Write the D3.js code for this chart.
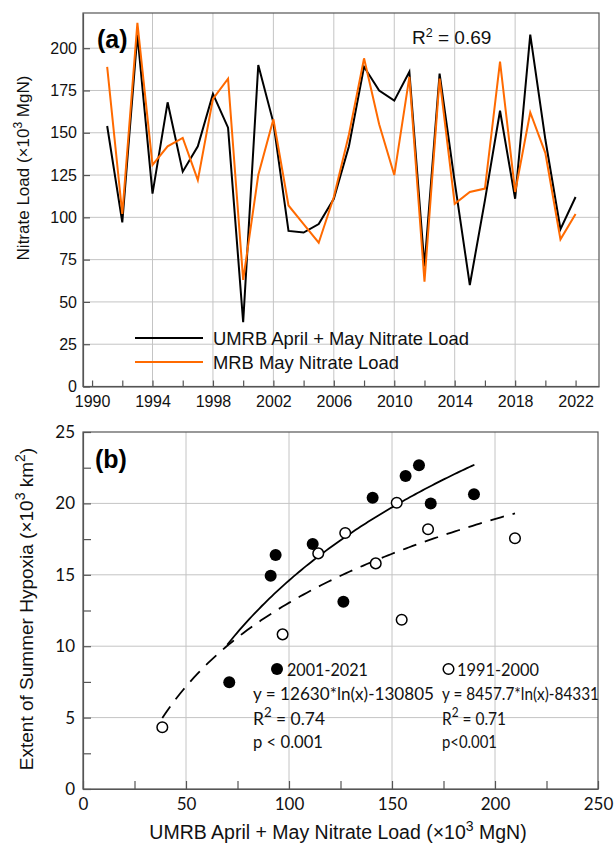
<!DOCTYPE html>
<html>
<head>
<meta charset="utf-8">
<script src="https://cdn.jsdelivr.net/npm/d3@7"></script>
<style>
  body { margin: 0; background: #fff; }
  svg { display: block; }
</style>
</head>
<body>
<svg width="615" height="845"></svg>
<script>
const svg = d3.select('svg');
svg.style('background-color', 'white');

// ---- panel (a) data: nitrate loads (x10^3 MgN)
const years = [1991, 1992, 1993, 1994, 1995, 1996, 1997, 1998, 1999, 2000,
  2001, 2002, 2003, 2004, 2005, 2006, 2007, 2008, 2009, 2010,
  2011, 2012, 2013, 2014, 2015, 2016, 2017, 2018, 2019, 2020, 2021, 2022];
const umrbAprMay = [154, 97, 208, 114, 168, 127, 142, 173, 153, 38,
  190, 156, 92, 91, 96, 111, 142, 189, 175, 169,
  186, 71, 185, 121, 60, 110, 163, 111, 208, 146, 93, 112];
const mrbMay = [189, 102, 215, 131, 142, 147, 122, 170, 182, 63,
  125, 158, 107, 96, 85, 112, 149, 194, 155, 125,
  183, 62, 182, 108, 115, 117, 192, 115, 162, 138, 87, 102];
const loadTicks = [0, 25, 50, 75, 100, 125, 150, 175, 200];
const yearTicks = [1990, 1992, 1994, 1996, 1998, 2000, 2002, 2004, 2006, 2008,
  2010, 2012, 2014, 2016, 2018, 2020, 2022];
const yearGrid = [1994, 1998, 2002, 2006, 2010, 2014, 2018];

// ---- panel (b) data: load vs hypoxia extent (x10^3 km2)
const recentLoad = [71.0, 91.1, 93.5, 111.5, 126.4, 140.6, 156.6, 163.1, 168.8, 189.8];
const recentHypoxia = [7.47, 14.94, 16.39, 17.16, 13.12, 20.40, 21.92, 22.67, 20.0, 20.64];
const earlyLoad = [38.5, 96.9, 114.2, 127.3, 142.1, 152.3, 154.7, 167.5, 209.7];
const earlyHypoxia = [4.32, 10.83, 16.50, 17.93, 15.80, 20.05, 11.85, 18.19, 17.56];
const fitRecent = [12630, -130805];   // y = a*ln(x) + b, x and y in raw units
const fitEarly = [8457.7, -84331];
const fitRecentRange = [70, 190];
const fitEarlyRange = [38.5, 209.7];
const loadTicksB = [0, 25, 50, 75, 100, 125, 150, 175, 200, 225, 250];
const hypoxiaTicks = [0, 2.5, 5, 7.5, 10, 12.5, 15, 17.5, 20, 22.5, 25];

const arial = 'Liberation Sans, Arial, sans-serif';
const calib = 'Lato, Noto Sans, sans-serif';
const frameColor = '#555';
const gridColor = '#c4c4c4';

// ================= panel (a)
const xA = d3.scaleLinear().domain([1989.4, 2023.55]).range([83, 599]);
const yA = d3.scaleLinear().domain([0, 220.8]).range([386.5, 13]);

const gA = svg.append('g').attr('class', 'panel-a');

gA.selectAll('line.hgrid').data(loadTicks.filter(d => d > 0))
  .enter().append('line')
    .attr('class', 'hgrid')
    .attr('x1', xA.range()[0]).attr('x2', xA.range()[1])
    .attr('y1', d => yA(d)).attr('y2', d => yA(d))
    .attr('stroke', gridColor).attr('stroke-width', 1);
gA.selectAll('line.vgrid').data(yearGrid)
  .enter().append('line')
    .attr('class', 'vgrid')
    .attr('x1', d => xA(d)).attr('x2', d => xA(d))
    .attr('y1', yA.range()[0]).attr('y2', yA.range()[1])
    .attr('stroke', gridColor).attr('stroke-width', 1);

// frame
gA.append('rect')
  .attr('x', xA.range()[0]).attr('y', yA.range()[1])
  .attr('width', xA.range()[1] - xA.range()[0])
  .attr('height', yA.range()[0] - yA.range()[1])
  .attr('fill', 'none').attr('stroke', frameColor).attr('stroke-width', 1.2);

const axA_x = gA.append('g')
  .attr('transform', `translate(0, ${yA.range()[0]})`)
  .call(d3.axisBottom(xA).tickValues(yearTicks).tickSize(-6).tickSizeOuter(0).tickPadding(9.5)
    .tickFormat(d => (d - 1990) % 4 === 0 ? d : ''));
const axA_y = gA.append('g')
  .attr('transform', `translate(${xA.range()[0]}, 0)`)
  .call(d3.axisLeft(yA).tickValues(loadTicks).tickSize(-7).tickSizeOuter(0).tickPadding(6));
[axA_x, axA_y].forEach(ax => {
  ax.select('.domain').attr('stroke', frameColor).attr('stroke-width', 1.2);
  ax.selectAll('.tick line').attr('stroke', frameColor).attr('stroke-width', 1.2);
  ax.selectAll('.tick text').attr('font-family', arial).attr('font-size', 16).attr('fill', '#111');
});

const lineA = d3.line().x((d, i) => xA(years[i])).y(d => yA(d));
gA.append('path').datum(umrbAprMay)
  .attr('d', lineA).attr('fill', 'none')
  .attr('stroke', '#000').attr('stroke-width', 2).attr('stroke-linejoin', 'miter');
gA.append('path').datum(mrbMay)
  .attr('d', lineA).attr('fill', 'none')
  .attr('stroke', '#ff6a00').attr('stroke-width', 2).attr('stroke-linejoin', 'miter');

// legend
const legendA = [
  { label: 'UMRB April + May Nitrate Load', color: '#000', y: 338 },
  { label: 'MRB May Nitrate Load', color: '#ff6a00', y: 362 }
];
legendA.forEach(item => {
  gA.append('line')
    .attr('x1', 135).attr('x2', 203).attr('y1', item.y).attr('y2', item.y)
    .attr('stroke', item.color).attr('stroke-width', 2);
  gA.append('text')
    .attr('x', 213).attr('y', item.y + 6.5)
    .attr('font-family', arial).attr('font-size', 18.4).attr('fill', '#111')
    .text(item.label);
});

gA.append('text')
  .attr('x', 97).attr('y', 48)
  .attr('font-family', arial).attr('font-size', 25).attr('font-weight', 'bold')
  .text('(a)');

const r2a = gA.append('text')
  .attr('x', 412).attr('y', 44)
  .attr('font-family', arial).attr('font-size', 19).attr('fill', '#111');
r2a.append('tspan').text('R');
r2a.append('tspan').attr('dy', -7).attr('font-size', 12.5).text('2');
r2a.append('tspan').attr('dy', 7).text(' = 0.69');

const ylabA = gA.append('text')
  .attr('transform', 'translate(29, 168) rotate(-90)')
  .attr('text-anchor', 'middle')
  .attr('font-family', arial).attr('font-size', 17).attr('fill', '#111');
ylabA.append('tspan').text('Nitrate Load (\u00d710');
ylabA.append('tspan').attr('dy', -7).attr('font-size', 12).text('3');
ylabA.append('tspan').attr('dy', 7).text(' MgN)');

// ================= panel (b)
const xB = d3.scaleLinear().domain([0, 250]).range([83, 598]);
const yB = d3.scaleLinear().domain([0, 25]).range([789, 432]);

const gB = svg.append('g').attr('class', 'panel-b');

gB.selectAll('line.hgrid').data([5, 10, 15, 20])
  .enter().append('line')
    .attr('class', 'hgrid')
    .attr('x1', xB.range()[0]).attr('x2', xB.range()[1])
    .attr('y1', d => yB(d)).attr('y2', d => yB(d))
    .attr('stroke', gridColor).attr('stroke-width', 1);
gB.selectAll('line.vgrid').data([50, 100, 150, 200])
  .enter().append('line')
    .attr('class', 'vgrid')
    .attr('x1', d => xB(d)).attr('x2', d => xB(d))
    .attr('y1', yB.range()[0]).attr('y2', yB.range()[1])
    .attr('stroke', gridColor).attr('stroke-width', 1);

gB.append('rect')
  .attr('x', xB.range()[0]).attr('y', yB.range()[1])
  .attr('width', xB.range()[1] - xB.range()[0])
  .attr('height', yB.range()[0] - yB.range()[1])
  .attr('fill', 'none').attr('stroke', frameColor).attr('stroke-width', 1.2);

const axB_x = gB.append('g')
  .attr('transform', `translate(0, ${yB.range()[0]})`)
  .call(d3.axisBottom(xB).tickValues(loadTicksB).tickSize(-8).tickSizeOuter(0).tickPadding(9)
    .tickFormat(d => d % 50 === 0 ? d : ''));
const axB_y = gB.append('g')
  .attr('transform', `translate(${xB.range()[0]}, 0)`)
  .call(d3.axisLeft(yB).tickValues(hypoxiaTicks).tickSize(-8).tickSizeOuter(0).tickPadding(8)
    .tickFormat(d => d % 5 === 0 ? d : ''));
[axB_x, axB_y].forEach(ax => {
  ax.select('.domain').attr('stroke', frameColor).attr('stroke-width', 1.2);
  ax.selectAll('.tick line').attr('stroke', frameColor).attr('stroke-width', 1.2);
  ax.selectAll('.tick text').attr('font-family', calib).attr('font-size', 17).attr('fill', '#111');
});

// fitted log curves
const fitCurve = (coef, range) => d3.range(0, 101).map(i => {
  const x = range[0] + (range[1] - range[0]) * i / 100;
  return [x, (coef[0] * Math.log(x * 1000) + coef[1]) / 1000];
});
const lineB = d3.line().x(d => xB(d[0])).y(d => yB(d[1]));
gB.append('path').datum(fitCurve(fitRecent, fitRecentRange))
  .attr('d', lineB).attr('fill', 'none').attr('stroke', '#000').attr('stroke-width', 1.8);
gB.append('path').datum(fitCurve(fitEarly, fitEarlyRange))
  .attr('d', lineB).attr('fill', 'none').attr('stroke', '#000').attr('stroke-width', 1.8)
  .attr('stroke-dasharray', '14,9');

gB.selectAll('circle.recent').data(recentLoad)
  .enter().append('circle')
    .attr('class', 'recent')
    .attr('cx', d => xB(d)).attr('cy', (d, i) => yB(recentHypoxia[i]))
    .attr('r', 6).attr('fill', '#000');
gB.selectAll('circle.early').data(earlyLoad)
  .enter().append('circle')
    .attr('class', 'early')
    .attr('cx', d => xB(d)).attr('cy', (d, i) => yB(earlyHypoxia[i]))
    .attr('r', 5.3).attr('fill', '#fff').attr('stroke', '#000').attr('stroke-width', 1.5);

// annotations
gB.append('circle').attr('cx', 277).attr('cy', 669).attr('r', 6).attr('fill', '#000');
gB.append('circle').attr('cx', 448.5).attr('cy', 669).attr('r', 5.3)
  .attr('fill', '#fff').attr('stroke', '#000').attr('stroke-width', 1.5);

const annText = (x, y, len, parts) => {
  const t = gB.append('text')
    .attr('x', x).attr('y', y)
    .attr('font-family', calib).attr('font-size', 17).attr('fill', '#111');
  parts.forEach(p => {
    const s = t.append('tspan').text(p.text);
    if (p.sup) s.attr('dy', -8).attr('font-size', 13);
    if (p.down) s.attr('dy', 8);
  });
  if (len) t.attr('textLength', len).attr('lengthAdjust', 'spacingAndGlyphs');
  return t;
};
annText(287, 675.5, 81, [{ text: '2001-2021' }]);
annText(253, 700, 181, [{ text: 'y = 12630*ln(x)-130805' }]);
annText(253, 725, 72, [{ text: 'R' }, { text: '2', sup: true }, { text: ' = 0.74', down: true }]);
annText(253, 748, 70, [{ text: 'p < 0.001' }]);
annText(457, 675.5, 82, [{ text: '1991-2000' }]);
annText(442, 700, 157, [{ text: 'y = 8457.7*ln(x)-84331' }]);
annText(442, 725, 64, [{ text: 'R' }, { text: '2', sup: true }, { text: ' = 0.71', down: true }]);
annText(442, 748, 55, [{ text: 'p<0.001' }]);

gB.append('text')
  .attr('x', 95).attr('y', 468)
  .attr('font-family', arial).attr('font-size', 25).attr('font-weight', 'bold')
  .text('(b)');

const xlabB = gB.append('text')
  .attr('x', 338).attr('y', 839)
  .attr('text-anchor', 'middle')
  .attr('font-family', arial).attr('font-size', 19.5).attr('fill', '#111');
xlabB.append('tspan').text('UMRB April + May Nitrate Load (\u00d710');
xlabB.append('tspan').attr('dy', -8).attr('font-size', 14).text('3');
xlabB.append('tspan').attr('dy', 8).text(' MgN)');

const ylabB = gB.append('text')
  .attr('transform', 'translate(33, 609) rotate(-90)')
  .attr('text-anchor', 'middle')
  .attr('font-family', arial).attr('font-size', 19).attr('fill', '#111');
ylabB.append('tspan').text('Extent of Summer Hypoxia (\u00d710');
ylabB.append('tspan').attr('dy', -8).attr('font-size', 14).text('3');
ylabB.append('tspan').attr('dy', 8).text(' km');
ylabB.append('tspan').attr('dy', -8).attr('font-size', 14).text('2');
ylabB.append('tspan').attr('dy', 8).text(')');
</script>
</body>
</html>
